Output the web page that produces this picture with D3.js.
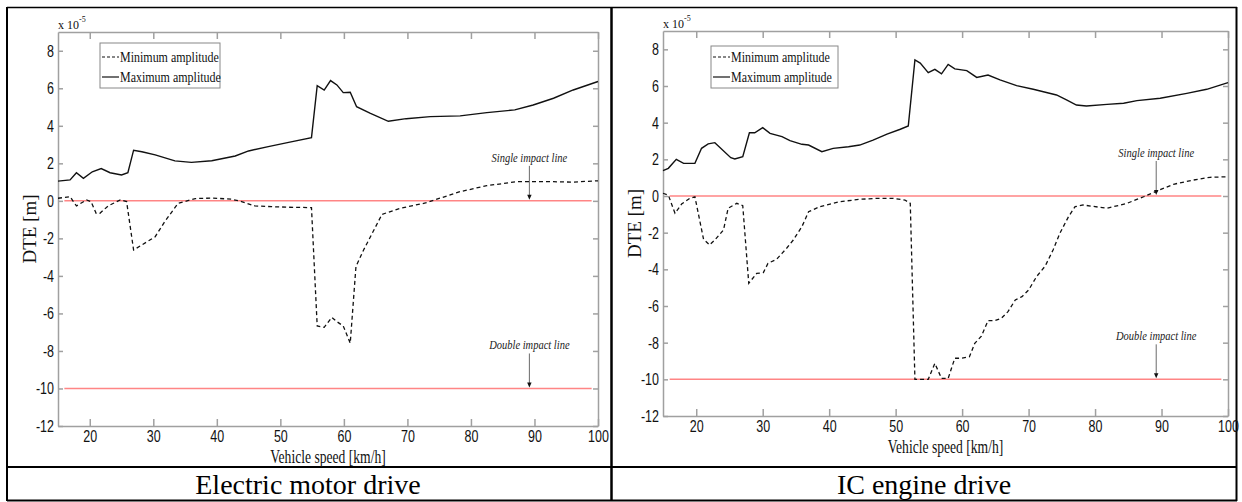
<!DOCTYPE html>
<html>
<head>
  <meta charset="utf-8">
  <title>DTE vs vehicle speed</title>
  <script src="https://d3js.org/d3.v7.min.js"></script>
  <style>
    body { margin: 0; background: #fff; }
    svg { font-family: "Liberation Serif", "Times New Roman", serif; }
    .axis path, .axis line { stroke: #a0a0a0; stroke-width: 1.5; }
    .axis text { fill: #111; font-size: 12.5px; }
  </style>
</head>
<body>
  <script>
    // values are DTE in units of 1e-5 m
    var xTicks = [20, 30, 40, 50, 60, 70, 80, 90, 100];
    var yTicks = [-12, -10, -8, -6, -4, -2, 0, 2, 4, 6, 8];
    var impactLevels = [0, -10];
    var impactLabels = ["Single impact line", "Double impact line"];
    var impactSpan = [16, 99];
    var arrowSpeed = 89.2;
    var legendLabels = ["Minimum amplitude", "Maximum amplitude"];
    var captions = ["Electric motor drive", "IC engine drive"];

    var emMax = [[15,1.05],[16.9,1.12],[17.9,1.5],[19.0,1.2],[20.4,1.55],[21.8,1.72],[23.2,1.5],[25.0,1.38],[26.0,1.5],
      [26.9,2.7],[28.2,2.62],[30.3,2.45],[33.4,2.13],[36.0,2.05],[39.2,2.14],[42.9,2.39],[45.0,2.66],[48.1,2.89],
      [51.3,3.12],[54.9,3.37],[55.8,6.14],[56.9,5.9],[57.9,6.41],[58.9,6.18],[59.9,5.77],[61.0,5.79],[62.0,5.02],
      [64.1,4.67],[67.0,4.24],[69.8,4.38],[73.6,4.49],[78.3,4.53],[82.5,4.70],[86.9,4.85],[89.8,5.11],[93.0,5.47],
      [96.1,5.91],[100,6.36]];
    var emMin = [[15,0.14],[16.9,0.22],[17.9,-0.27],[19.5,0.05],[20.2,-0.04],[21.0,-0.66],[21.6,-0.66],[22.9,-0.27],
      [24.8,0.05],[25.8,-0.04],[26.9,-2.62],[28.2,-2.35],[30.3,-1.91],[31.8,-1.11],[33.9,-0.13],[36.6,0.12],[39.2,0.15],
      [42.3,0.09],[43.9,-0.04],[46.0,-0.27],[48.6,-0.31],[51.3,-0.34],[54.9,-0.36],[55.8,-6.67],[56.9,-6.74],
      [58.1,-6.21],[58.9,-6.44],[59.9,-6.67],[61.0,-7.59],[61.9,-3.5],[63.1,-2.62],[66.0,-0.72],[68.8,-0.40],
      [73.0,-0.1],[75.1,0.14],[78.3,0.49],[82.5,0.81],[87.2,1.02],[93.0,1.02],[96.1,1.0],[100,1.07]];
    var icMax = [[15,1.38],[15.8,1.51],[17.0,2.0],[18.1,1.78],[19.8,1.78],[20.8,2.6],[21.8,2.84],[22.8,2.91],[25.2,2.09],
      [25.8,2.02],[27.0,2.15],[28.0,3.45],[28.8,3.45],[30.0,3.73],[31.1,3.42],[32.9,3.24],[34.1,3.02],[35.9,2.82],
      [36.9,2.78],[38.9,2.42],[40.6,2.6],[42.9,2.69],[44.6,2.78],[46.6,3.05],[48.7,3.38],[50.7,3.64],[51.9,3.82],
      [52.9,7.42],[53.7,7.25],[54.9,6.73],[55.9,6.91],[56.9,6.66],[57.9,7.18],[58.9,6.93],[60.7,6.84],[62.2,6.47],
      [63.9,6.6],[65.7,6.33],[68.2,6.02],[70.7,5.82],[74.2,5.51],[75.7,5.24],[77.2,4.96],[78.7,4.91],[81.8,5.0],
      [84.3,5.06],[86.3,5.2],[89.8,5.33],[93.8,5.6],[96.8,5.82],[100,6.18]];
    var icMin = [[15,0.15],[15.8,0.05],[16.8,-0.94],[17.8,-0.44],[19.0,-0.13],[19.8,-0.04],[21.1,-2.36],[22.0,-2.67],
      [22.8,-2.4],[24.1,-1.85],[24.8,-0.67],[26.1,-0.4],[27.0,-0.53],[27.9,-4.76],[29.1,-4.22],[30.1,-4.18],[30.8,-3.67],
      [32.1,-3.45],[32.9,-3.13],[33.6,-2.85],[34.6,-2.4],[35.9,-1.67],[36.9,-0.86],[38.6,-0.58],[41.6,-0.31],
      [44.6,-0.18],[47.1,-0.13],[49.6,-0.13],[51.4,-0.22],[52.2,-0.4],[52.9,-10.0],[54.9,-10.0],[55.9,-9.13],
      [56.9,-9.95],[57.9,-9.95],[58.9,-8.85],[59.9,-8.85],[61.1,-8.77],[61.9,-8.04],[62.9,-7.64],[63.9,-6.8],
      [64.9,-6.8],[65.9,-6.67],[66.9,-6.31],[68.0,-5.67],[69.0,-5.49],[70.0,-5.13],[71.2,-4.4],[72.5,-3.82],
      [73.7,-2.93],[74.7,-2.04],[76.0,-1.13],[77.0,-0.58],[78.2,-0.49],[81.8,-0.67],[84.8,-0.4],[87.3,-0.04],
      [89.3,0.27],[91.8,0.64],[94.8,0.87],[97.3,1.02],[100,1.05]];

    var width = 1242, height = 502;
    var stretch = 1.3; // the figure's text is squeezed horizontally

    var svg = d3.select("body").append("svg")
      .attr("width", width)
      .attr("height", height);

    // table frame
    var frame = svg.append("g").attr("stroke", "#000").attr("fill", "none");
    frame.append("line").attr("x1", 7).attr("y1", 7.5).attr("x2", 1237).attr("y2", 7.5).attr("stroke-width", 1.5);
    frame.append("line").attr("x1", 7).attr("y1", 467).attr("x2", 1237).attr("y2", 467).attr("stroke-width", 2);
    frame.append("line").attr("x1", 7).attr("y1", 500.5).attr("x2", 1237).attr("y2", 500.5).attr("stroke-width", 2);
    frame.append("line").attr("x1", 7).attr("y1", 7).attr("x2", 7).attr("y2", 501).attr("stroke-width", 2);
    frame.append("line").attr("x1", 611.5).attr("y1", 7).attr("x2", 611.5).attr("y2", 501).attr("stroke-width", 2.5);
    frame.append("line").attr("x1", 1236.5).attr("y1", 7).attr("x2", 1236.5).attr("y2", 501).attr("stroke-width", 2);

    svg.selectAll(".caption")
      .data(captions)
      .enter()
      .append("text")
      .attr("class", "caption")
      .attr("x", (d, i) => i === 0 ? 308 : 924)
      .attr("y", 494)
      .attr("text-anchor", "middle")
      .style("font-size", "28px")
      .style("fill", "#000")
      .text(d => d);

    function stretchText(sel, x, y, k) {
      sel.attr("transform", "translate(" + x + "," + y + ") scale(1," + k + ")");
    }

    function drawPanel(box, maxData, minData, legend) {
      var g = svg.append("g");

      var x = d3.scaleLinear().domain([15, 100]).range([box.left, box.right]);
      var y = d3.scaleLinear().domain([-12, 9]).range([box.bottom, box.top]);

      // axes, ticks pointing inward like matlab
      var bottom = g.append("g")
        .attr("class", "axis")
        .attr("transform", "translate(0," + box.bottom + ")")
        .call(d3.axisBottom(x).tickValues(xTicks).tickSizeInner(-7).tickSizeOuter(0).tickPadding(0)
          .tickFormat(d => String(d)));
      bottom.selectAll("text")
        .attr("dy", null)
        .attr("y", 0)
        .attr("transform", "translate(0,15.5) scale(1," + stretch + ")");

      g.append("g")
        .attr("class", "axis")
        .attr("transform", "translate(0," + box.top + ")")
        .call(d3.axisTop(x).tickValues(xTicks).tickSizeInner(-7).tickSizeOuter(0).tickFormat(""));

      var left = g.append("g")
        .attr("class", "axis")
        .attr("transform", "translate(" + box.left + ",0)")
        .call(d3.axisLeft(y).tickValues(yTicks).tickSizeInner(-5).tickSizeOuter(0).tickPadding(0)
          .tickFormat(d => String(d)));
      left.selectAll("text")
        .attr("x", 0)
        .attr("dy", "0.33em")
        .attr("transform", "translate(-4,0) scale(1," + stretch + ")");

      g.append("g")
        .attr("class", "axis")
        .attr("transform", "translate(" + box.right + ",0)")
        .call(d3.axisRight(y).tickValues(yTicks).tickSizeInner(-5).tickSizeOuter(0).tickFormat(""));

      // exponent label
      var expo = g.append("text")
        .style("font-size", "12px")
        .style("fill", "#111");
      stretchText(expo, box.left, box.top - 3, 1.1);
      expo.append("tspan").text("x 10");
      expo.append("tspan").attr("dy", -6).style("font-size", "8px").text("-5");

      // axis titles
      var xt = g.append("text")
        .attr("text-anchor", "middle")
        .style("font-size", "13.6px")
        .style("fill", "#111")
        .text("Vehicle speed [km/h]");
      stretchText(xt, (box.left + box.right) / 2, box.bottom + 37, 1.38);

      g.append("text")
        .attr("transform", "translate(" + (box.left - 22) + "," + ((box.top + box.bottom) / 2) + ") rotate(-90)")
        .attr("text-anchor", "middle")
        .style("font-size", "19px")
        .style("fill", "#111")
        .text("DTE [m]");

      // impact lines
      g.selectAll(".impact")
        .data(impactLevels)
        .enter()
        .append("line")
        .attr("class", "impact")
        .attr("x1", x(impactSpan[0]))
        .attr("x2", x(impactSpan[1]))
        .attr("y1", d => y(d))
        .attr("y2", d => y(d))
        .attr("stroke", "#ff8585")
        .attr("stroke-width", 1.5);

      impactLevels.forEach(function(level, i) {
        var ax = x(arrowSpeed), ay = y(level);
        g.append("line")
          .attr("x1", ax).attr("x2", ax)
          .attr("y1", ay - 35).attr("y2", ay - 4)
          .attr("stroke", "#444")
          .attr("stroke-width", 0.8);
        g.append("path")
          .attr("d", "M" + (ax - 2.2) + "," + (ay - 6) + "L" + (ax + 2.2) + "," + (ay - 6) + "L" + ax + "," + (ay - 1) + "Z")
          .attr("fill", "#111");
        var t = g.append("text")
          .attr("text-anchor", "middle")
          .style("font-size", "10.5px")
          .style("font-style", "italic")
          .style("fill", "#222")
          .text(impactLabels[i]);
        stretchText(t, ax, ay - 39, 1.2);
      });

      var line = d3.line().x(d => x(d[0])).y(d => y(d[1]));

      g.append("path")
        .datum(maxData)
        .attr("d", line)
        .attr("fill", "none")
        .attr("stroke", "#111")
        .attr("stroke-width", 1.4);

      g.append("path")
        .datum(minData)
        .attr("d", line)
        .attr("fill", "none")
        .attr("stroke", "#111")
        .attr("stroke-width", 1.3)
        .attr("stroke-dasharray", "4,3");

      // legend
      var lg = g.append("g");
      lg.append("rect")
        .attr("x", legend.x).attr("y", legend.y)
        .attr("width", legend.w).attr("height", legend.h)
        .attr("fill", "#fff")
        .attr("stroke", "#888")
        .attr("stroke-width", 1);
      legendLabels.forEach(function(label, i) {
        var base = legend.y + legend.h - 26 + i * 20;
        lg.append("line")
          .attr("x1", legend.x + 2).attr("x2", legend.x + 19)
          .attr("y1", base - 5).attr("y2", base - 5)
          .attr("stroke", "#111")
          .attr("stroke-width", 1.2)
          .attr("stroke-dasharray", i === 0 ? "3,2" : null);
        var t = lg.append("text")
          .style("font-size", "12px")
          .style("fill", "#111")
          .text(label);
        stretchText(t, legend.x + 20, base, 1.28);
      });
    }

    drawPanel({ left: 58, top: 32, right: 598, bottom: 426 }, emMax, emMin, { x: 100, y: 43, w: 120, h: 45 });
    drawPanel({ left: 663, top: 31, right: 1228, bottom: 416 }, icMax, icMin, { x: 711, y: 46, w: 127, h: 42 });
  </script>
</body>
</html>
